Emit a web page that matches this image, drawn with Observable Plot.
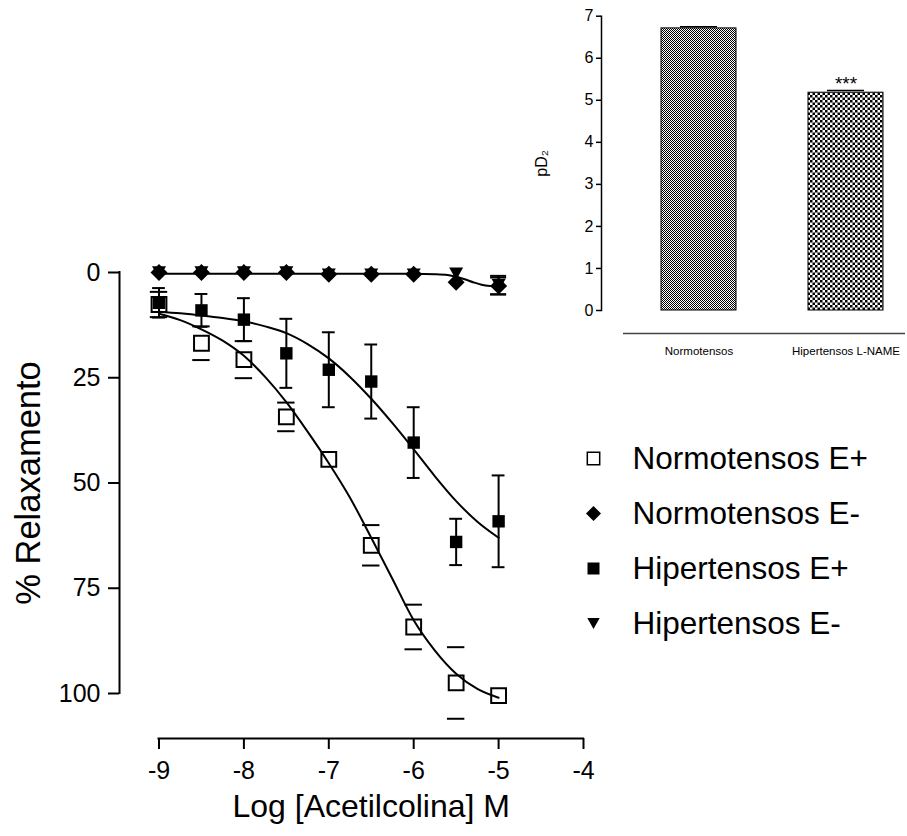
<!DOCTYPE html>
<html>
<head>
<meta charset="utf-8">
<script src="https://cdn.jsdelivr.net/npm/d3@7"></script>
<script src="https://cdn.jsdelivr.net/npm/@observablehq/plot@0.6"></script>
<style>
html, body { margin: 0; padding: 0; background: #ffffff; }
#chart { position: relative; width: 907px; height: 836px; overflow: hidden; background: #ffffff; }
</style>
</head>
<body>
<svg width="0" height="0" style="position:absolute">
  <defs>
    <pattern id="checkFine" width="2" height="2" patternUnits="userSpaceOnUse">
      <rect width="2" height="2" fill="#ffffff"/>
      <rect width="1" height="1" fill="#000000"/>
      <rect x="1" y="1" width="1" height="1" fill="#000000"/>
    </pattern>
    <pattern id="checkCoarse" width="5" height="5" patternUnits="userSpaceOnUse">
      <rect width="5" height="5" fill="#ffffff"/>
      <rect width="2.5" height="2.5" fill="#000000"/>
      <rect x="2.5" y="2.5" width="2.5" height="2.5" fill="#000000"/>
    </pattern>
  </defs>
</svg>
<div id="chart"></div>
<script>
// ---------- data ----------
const logConc = [-9, -8.5, -8, -7.5, -7, -6.5, -6, -5.5, -5];

const normoEplus    = [7.6, 16.8, 20.7, 34.3, 44.4, 64.8, 84.2, 97.5, 100.5];
const normoEplusErr = [3.0, 4.0, 4.4, 3.4, 0, 4.8, 5.3, 8.5, 0];

const normoEminus    = [0, 0, 0, 0, 0.4, 0.4, 0.4, 2.3, 3.2];
const normoEminusErr = [0, 0, 0, 0, 0, 0, 0, 0, 2.0];

const hiperEplus    = [7.2, 9.0, 11.2, 19.2, 23.1, 25.9, 40.4, 64.0, 59.1];
const hiperEplusErr = [3.5, 3.9, 5.1, 8.2, 8.9, 8.8, 8.4, 5.5, 10.9];

const hiperEminus    = [0, 0, 0, 0, 0.5, 0.5, 0.5, 0.3, 3.0];
const hiperEminusErr = [0, 0, 0, 0, 0, 0, 0, 0, 2.2];

// fitted curves
const curveX      = [-9, -8.75, -8.5, -8.25, -8, -7.75, -7.5, -7.25, -7, -6.75, -6.5, -6.25, -6, -5.75, -5.5, -5.25, -5];
const normoCurve  = [9.8, 11.3, 13.5, 16.2, 19.8, 24.8, 30.8, 37.8, 45.3, 53.5, 63.0, 72.8, 82.6, 89.8, 95.3, 98.9, 101.0];
const hiperCurve  = [9.3, 9.7, 10.2, 10.8, 11.6, 12.8, 14.4, 17.0, 20.4, 24.8, 30.0, 35.8, 42.0, 48.4, 54.3, 59.2, 63.0];
const eMinusCurveX = [-9, -8, -7, -6, -5.75, -5.6, -5.5, -5.4, -5.3, -5.2, -5.1, -5];
const eMinusCurve  = [0.3, 0.3, 0.3, 0.3, 0.4, 0.6, 1.0, 1.6, 2.3, 2.9, 3.2, 3.3];

const xTicks = [-9, -8, -7, -6, -5, -4];
const yTicks = [0, 25, 50, 75, 100];
const xLabel = "Log [Acetilcolina] M";
const yLabel = "% Relaxamento";

const legendNames = ["Normotensos E+", "Normotensos E-", "Hipertensos E+", "Hipertensos E-"];

// inset bar chart
const barNames = ["Normotensos", "Hipertensos L-NAME"];
const barValues = [6.71, 5.18];
const barErrors = [0.04, 0.05];
const barStars = ["", "***"];
const pd2Ticks = [0, 1, 2, 3, 4, 5, 6, 7];
const pd2Label = "pD\u2082";

// ---------- helpers ----------
const FONT = '"Liberation Sans", Arial, Helvetica, sans-serif';
const rows = (vals, errs) => logConc.map((x, i) => ({x, y: vals[i], e: errs[i]}));
const line = (xs, ys) => xs.map((x, i) => ({x, y: ys[i]}));

const sym = (fn) => ({draw(ctx, size) { fn(ctx, Math.sqrt(size / Math.PI)); }});
const squareSym = sym((c, r) => { c.moveTo(-r, -r); c.lineTo(r, -r); c.lineTo(r, r); c.lineTo(-r, r); c.closePath(); });
const diamondSym = sym((c, r) => { c.moveTo(0, -r); c.lineTo(r, 0); c.lineTo(0, r); c.lineTo(-r, 0); c.closePath(); });
const triDownSym = sym((c, r) => { const h = r * 0.88; c.moveTo(-r, -h); c.lineTo(r, -h); c.lineTo(0, h); c.closePath(); });

function errMarks(data, cap, stem) {
  const d = data.filter(p => p.e > 0);
  const m = [];
  if (stem) m.push(Plot.ruleX(d, {x: "x", y1: p => p.y - p.e, y2: p => p.y + p.e, stroke: "black", strokeWidth: 2}));
  for (const s of [1, -1]) {
    m.push(Plot.ruleY(d, {y: p => p.y + s * p.e, x1: "x", x2: "x", insetLeft: -cap, insetRight: -cap, stroke: "black", strokeWidth: 2}));
  }
  return m;
}

const nEp = rows(normoEplus, normoEplusErr);
const nEm = rows(normoEminus, normoEminusErr);
const hEp = rows(hiperEplus, hiperEplusErr);
const hEm = rows(hiperEminus, hiperEminusErr);

const chart = document.getElementById("chart");

// ---------- main plot ----------
const main = Plot.plot({
  width: 907, height: 836,
  marginLeft: 119, marginRight: 324, marginTop: 272, marginBottom: 98,
  style: {background: "transparent", fontFamily: FONT, overflow: "visible"},
  x: {domain: [xTicks[0], xTicks[xTicks.length - 1]], range: [158.5, 583]},
  y: {domain: [yTicks[0], yTicks[yTicks.length - 1]], range: [272, 693]},
  marks: [
    Plot.axisY({ticks: yTicks, tickSize: 11, tickPadding: 8, fontSize: 25, label: null, tickFormat: d => String(d), strokeWidth: 2}),
    Plot.axisX({ticks: xTicks, tickSize: 11, tickPadding: 12, fontSize: 25, label: null, tickFormat: d => String(d), strokeWidth: 2}),
    Plot.ruleX([xTicks[0]], {y1: yTicks[0], y2: yTicks[yTicks.length - 1], dx: -39.5, strokeWidth: 2, strokeLinecap: "square"}),
    Plot.ruleY([yTicks[yTicks.length - 1]], {x1: xTicks[0], x2: xTicks[xTicks.length - 1], dy: 45, strokeWidth: 2, strokeLinecap: "square"}),
    Plot.text([yLabel], {text: d => d, y: () => (yTicks[0] + yTicks[yTicks.length - 1]) / 2, frameAnchor: "left", textAnchor: "middle", rotate: -90, dx: -91, fontSize: 34.5}),
    Plot.text([xLabel], {text: d => d, x: () => (xTicks[0] + xTicks[xTicks.length - 1]) / 2, frameAnchor: "bottom", textAnchor: "middle", dy: 78, fontSize: 32}),
    // fitted curves
    Plot.line(line(curveX, normoCurve), {x: "x", y: "y", curve: "monotone-x", stroke: "black", strokeWidth: 2}),
    Plot.line(line(curveX, hiperCurve), {x: "x", y: "y", curve: "monotone-x", stroke: "black", strokeWidth: 2}),
    Plot.line(line(eMinusCurveX, eMinusCurve), {x: "x", y: "y", curve: "monotone-x", stroke: "black", strokeWidth: 2}),
    // error bars
    ...errMarks(hEp, 6.4, true),
    ...errMarks(nEp, 8.7, false),
    ...errMarks(nEm, 8, true),
    ...errMarks(hEm, 8, true),
    // markers
    Plot.dot(nEm, {x: "x", y: "y", symbol: diamondSym, r: 8.5, fill: "black", stroke: "none"}),
    Plot.dot(hEm, {x: "x", y: "y", symbol: triDownSym, r: 7, fill: "black", stroke: "none"}),
    Plot.dot(hEp, {x: "x", y: "y", symbol: squareSym, r: 6.2, fill: "black", stroke: "none"}),
    Plot.dot(nEp, {x: "x", y: "y", symbol: squareSym, r: 7.4, fill: "none", stroke: "black", strokeWidth: 2})
  ]
});
main.style.position = "absolute";
main.style.left = "0px";
main.style.top = "0px";
chart.appendChild(main);

// ---------- legend ----------
const legSyms = [
  {symbol: squareSym, r: 6.2, fill: "none", stroke: "black", strokeWidth: 1.5},
  {symbol: diamondSym, r: 7.5, fill: "black", stroke: "none"},
  {symbol: squareSym, r: 6, fill: "black", stroke: "none"},
  {symbol: triDownSym, r: 6.2, fill: "black", stroke: "none"}
];
const legend = Plot.plot({
  width: 337, height: 240,
  marginLeft: 0, marginRight: 0, marginTop: 0, marginBottom: 0,
  style: {background: "transparent", fontFamily: FONT, overflow: "visible"},
  x: {domain: [0, 1], range: [23, 62], axis: null},
  y: {type: "point", domain: legendNames, range: [37, 204], padding: 0, axis: null},
  marks: [
    ...legendNames.map((n, i) => Plot.dot([n], {x: () => 0, y: d => d, ...legSyms[i]})),
    Plot.text(legendNames, {x: () => 1, y: d => d, text: d => d, textAnchor: "start", fontSize: 31.5, fill: "black"})
  ]
});
legend.style.position = "absolute";
legend.style.left = "570px";
legend.style.top = "420px";
chart.appendChild(legend);

// ---------- inset bar chart ----------
const bars = barNames.map((name, i) => ({name, value: barValues[i], err: barErrors[i], star: barStars[i]}));
const patterns = ["url(#checkFine)", "url(#checkCoarse)"];
const inset = Plot.plot({
  width: 387, height: 372,
  marginLeft: 81, marginRight: 2, marginTop: 15.7, marginBottom: 62,
  style: {background: "transparent", fontFamily: FONT, overflow: "visible"},
  x: {domain: barNames, range: [141, 363], paddingInner: 0.49, paddingOuter: 0},
  y: {domain: [pd2Ticks[0], pd2Ticks[pd2Ticks.length - 1]], range: [310, 15.7]},
  marks: [
    Plot.axisY({ticks: pd2Ticks, tickSize: 5, tickPadding: 3, fontSize: 16, label: null, tickFormat: d => String(d), strokeWidth: 1.5}),
    Plot.frame({anchor: "left", strokeWidth: 1.5}),
    Plot.ruleY([pd2Ticks[0]], {dy: 23, insetLeft: 22, stroke: "#444", strokeWidth: 1.5}),
    Plot.axisX({tickSize: 0, tickPadding: 36, fontSize: 11.5, label: null}),
    ...bars.map((b, i) => Plot.barY([b], {x: "name", y: "value", fill: patterns[i], stroke: "black", strokeWidth: 1})),
    Plot.tickY(bars, {x: "name", y: d => d.value + d.err, insetLeft: 19, insetRight: 19, stroke: "black", strokeWidth: 1.5}),
    Plot.text(bars.filter(d => d.star), {x: "name", y: d => d.value + d.err, text: d => d.star, lineAnchor: "bottom", dy: -1, fontSize: 19}),
    Plot.text([pd2Label], {text: d => d, y: () => (pd2Ticks[0] + pd2Ticks[pd2Ticks.length - 1]) / 2, frameAnchor: "left", textAnchor: "middle", rotate: -90, dx: -59.3, fontSize: 16})
  ]
});
inset.style.position = "absolute";
inset.style.left = "520px";
inset.style.top = "0px";
chart.appendChild(inset);
</script>
</body>
</html>
